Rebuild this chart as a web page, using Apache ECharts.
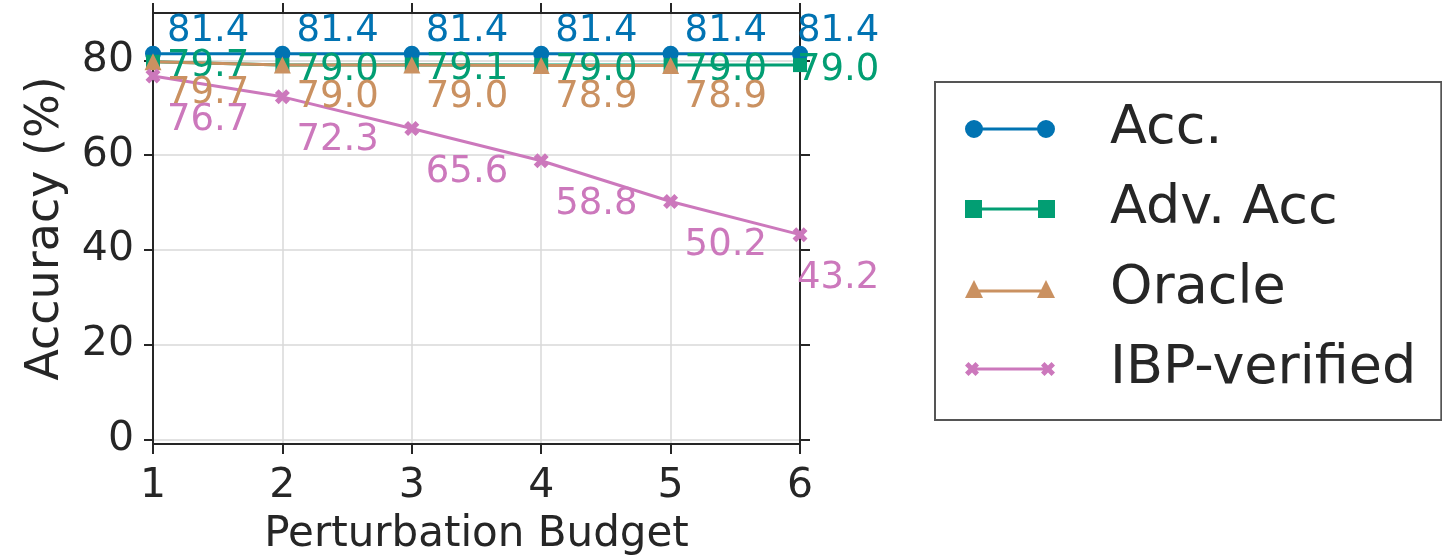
<!DOCTYPE html>
<html>
<head>
<meta charset="utf-8">
<script src="https://cdn.jsdelivr.net/npm/echarts@6/dist/echarts.min.js"></script>
<style>
html,body{margin:0;padding:0;background:#fff;}
#chart{width:1442px;height:556px;}
</style>
</head>
<body>
<div id="chart"></div>
<script>
// ---- data ----
const budgets = [1, 2, 3, 4, 5, 6];
const accValues = [81.4, 81.4, 81.4, 81.4, 81.4, 81.4];
const advAccValues = [79.7, 79.0, 79.1, 79.0, 79.0, 79.0];
const oracleValues = [79.7, 79.0, 79.0, 78.9, 78.9];
const ibpValues = [76.7, 72.3, 65.6, 58.8, 50.2, 43.2];
const seriesNames = ['Acc.', 'Adv. Acc', 'Oracle', 'IBP-verified'];
const xTicks = [1, 2, 3, 4, 5, 6];
const yTicks = [0, 20, 40, 60, 80];
const xAxisTitle = 'Perturbation Budget';
const yAxisTitle = 'Accuracy (%)';

// ---- styling ----
const FONT = 'DejaVu Sans';
const INK = '#262626';
const colors = ['#0173b2', '#029e73', '#ca9161', '#cc78bc'];
const xMarker = 'path://M2.5,0 L5,2.5 L7.5,0 L10,2.5 L7.5,5 L10,7.5 L7.5,10 L5,7.5 L2.5,10 L0,7.5 L2.5,5 L0,2.5 Z';
const legendIcons = [
  'path://M0,9 A9,9 0 1 1 18,9 A9,9 0 1 1 0,9 Z M72,9 A9,9 0 1 1 90,9 A9,9 0 1 1 72,9 Z M9,7.5 L81,7.5 L81,10.5 L9,10.5 Z',
  'path://M0,0 L17,0 L17,18 L0,18 Z M73,0 L90,0 L90,18 L73,18 Z M9,7.5 L81,7.5 L81,10.5 L9,10.5 Z',
  'path://M9,0 L18,18 L0,18 Z M81,0 L90,18 L72,18 Z M9,9.5 L81,9.5 L81,12.5 L9,12.5 Z',
  'path://M0,3.5 L3.5,0 L7,3.5 L10.5,0 L14,3.5 L10.5,7 L14,10.5 L10.5,14 L7,10.5 L3.5,14 L0,10.5 L3.5,7 Z M76,3.5 L79.5,0 L83,3.5 L86.5,0 L90,3.5 L86.5,7 L90,10.5 L86.5,14 L83,10.5 L79.5,14 L76,10.5 L79.5,7 Z M7,5.5 L83,5.5 L83,8.5 L7,8.5 Z'
];

function buildData(values, lastOffset) {
  return values.map((v, i) => {
    const item = { value: [budgets[i], v] };
    if (i === budgets.length - 1) {
      item.label = { offset: lastOffset };
    }
    return item;
  });
}

function makeSeries(idx, values, symbol, size, dy) {
  const half = size / 2;
  return {
    name: seriesNames[idx],
    type: 'line',
    data: buildData(values, [-3 - half, dy]),
    symbol: symbol,
    symbolSize: size,
    showAllSymbol: true,
    clip: false,
    lineStyle: { color: colors[idx], width: 3 },
    itemStyle: { color: colors[idx] },
    label: {
      show: true,
      position: 'right',
      distance: 0,
      offset: [14 - half, dy],
      color: colors[idx],
      fontFamily: FONT,
      fontSize: 37,
      formatter: p => p.value[1].toFixed(1)
    },
    emphasis: { disabled: true },
    animation: false
  };
}

const chart = echarts.init(document.getElementById('chart'));
const yRange = { min: -1, max: 90 };

chart.setOption({
  backgroundColor: '#ffffff',
  animation: false,
  grid: { left: 153, right: 642, top: 13, bottom: 112, containLabel: false, outerBoundsMode: 'none' },
  legend: {
    left: 935,
    top: 82,
    orient: 'vertical',
    padding: [20, 25, 24, 30],
    itemGap: 26,
    itemWidth: 90,
    itemHeight: 18,
    borderColor: '#555555',
    borderWidth: 2,
    borderRadius: 0,
    backgroundColor: '#ffffff',
    textStyle: { fontFamily: FONT, fontSize: 54, color: INK, padding: [0, 0, 0, 50] },
    data: seriesNames.map((n, i) => ({ name: n, icon: legendIcons[i] })),
    selectedMode: false
  },
  xAxis: [
    {
      type: 'value',
      min: xTicks[0],
      max: xTicks[xTicks.length - 1],
      interval: 1,
      name: xAxisTitle,
      nameLocation: 'middle',
      nameGap: 70,
      nameTextStyle: { fontFamily: FONT, fontSize: 42, color: INK },
      axisLine: { show: true, onZero: false, lineStyle: { color: INK, width: 2 } },
      axisTick: { show: true, inside: false, length: 10, lineStyle: { color: INK, width: 2 } },
      axisLabel: { fontFamily: FONT, fontSize: 41, color: INK, margin: 22 },
      splitLine: { show: true, lineStyle: { color: '#d9d9d9', width: 1.5 } }
    },
    {
      type: 'value',
      position: 'top',
      min: xTicks[0],
      max: xTicks[xTicks.length - 1],
      interval: 1,
      axisLine: { show: true, onZero: false, lineStyle: { color: INK, width: 2 } },
      axisTick: { show: true, inside: false, length: 10, lineStyle: { color: INK, width: 2 } },
      axisLabel: { show: false },
      splitLine: { show: false }
    }
  ],
  yAxis: [
    {
      type: 'value',
      min: yRange.min,
      max: yRange.max,
      name: yAxisTitle,
      nameLocation: 'middle',
      nameGap: 84,
      nameTextStyle: { fontFamily: FONT, fontSize: 46, color: INK },
      axisLine: { show: true, onZero: false, lineStyle: { color: INK, width: 2 } },
      axisTick: { show: true, inside: false, length: 9, customValues: yTicks, lineStyle: { color: INK, width: 2 } },
      axisLabel: { fontFamily: FONT, fontSize: 41, color: INK, margin: 19, customValues: yTicks },
      splitLine: { show: true, lineStyle: { color: '#d9d9d9', width: 1.5 } }
    },
    {
      type: 'value',
      position: 'right',
      min: yRange.min,
      max: yRange.max,
      axisLine: { show: true, onZero: false, lineStyle: { color: INK, width: 2 } },
      axisTick: { show: true, inside: false, length: 10, customValues: yTicks, lineStyle: { color: INK, width: 2 } },
      axisLabel: { show: false, customValues: yTicks },
      splitLine: { show: false }
    }
  ],
  series: [
    makeSeries(0, accValues, 'circle', 16, -22),
    makeSeries(1, advAccValues, 'rect', 14, 5),
    makeSeries(2, oracleValues, 'triangle', 17, 32),
    makeSeries(3, ibpValues, xMarker, 15, 44)
  ]
});
</script>
</body>
</html>
